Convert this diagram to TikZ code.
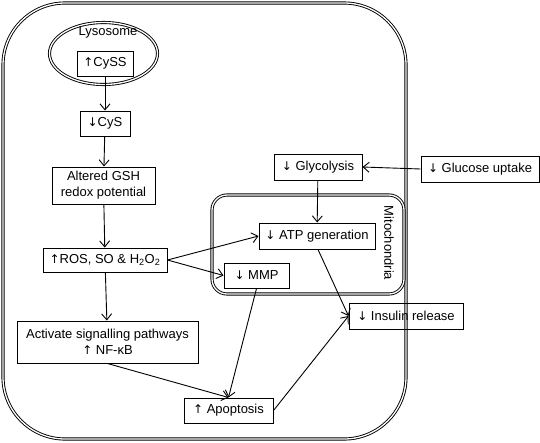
\documentclass[tikz,border=0pt]{standalone}
\usepackage{fontspec}
\setmainfont{Liberation Sans}
\newfontfamily\arrowfont{DejaVu Sans}
\newcommand\uparr{{\arrowfont\fontsize{12}{14}\selectfont ↑}}
\newcommand\dnarr{{\arrowfont\fontsize{12}{14}\selectfont ↓}}
\usetikzlibrary{arrows.meta,shapes.geometric}
\begin{document}
\begin{tikzpicture}[x=1pt,y=-1pt,
  box/.style={draw,line width=1pt,inner sep=0pt,minimum height=25pt,align=center,font=\fontsize{13}{16}\selectfont},
  dbl/.style={draw,line width=0.9pt,double,double distance=1.3pt},
  arr/.style={-{Straight Barb[length=6pt,width=10pt]},line width=0.9pt}]
\useasboundingbox (0,0) rectangle (540,442);
% cell
\draw[dbl,rounded corners=62pt] (3,3) rectangle (406,439);
% lysosome
\node[dbl,ellipse,minimum width=108pt,minimum height=62pt,inner sep=0pt] (lys) at (103.5,53.5) {};
\node[font=\fontsize{13}{15}\selectfont] (lyst) at (108,32) {Lysosome};
% mitochondria
\draw[dbl,rounded corners=15pt] (212,195) rectangle (404,294);
\node[rotate=-90,font=\fontsize{13}{15}\selectfont] (mitt) at (389,243) {Mitochondria};
% boxes
\node[box,minimum width=56pt] (cyss) at (105,63.5) {\uparr CySS};
\node[box,minimum width=50pt] (cys) at (105,123.5) {\dnarr CyS};
\node[box,minimum width=103pt,minimum height=37pt] (gsh) at (103.5,185.5) {Altered GSH\\redox potential};
\node[box,minimum width=124pt,minimum height=24pt] (ros) at (105,260) {\uparr ROS, SO \& H\textsubscript{2}O\textsubscript{2}};
\node[box,minimum width=181pt,minimum height=42pt] (act) at (107.5,342) {Activate signalling pathways\\\uparr\ NF-κB};
\node[box,minimum width=89pt] (apo) at (228.5,410.5) {\uparr\ Apoptosis};
\node[box,minimum width=88pt,minimum height=26pt] (gly) at (318,167) {\dnarr\ Glycolysis};
\node[box,minimum width=118pt,minimum height=26pt] (glu) at (480,169) {\dnarr\ Glucose uptake};
\node[box,minimum width=116pt,minimum height=26pt] (atp) at (317,236) {\dnarr\ ATP generation};
\node[box,minimum width=65pt] (mmp) at (256.5,275.5) {\dnarr\ MMP};
\node[box,minimum width=114pt,minimum height=26pt] (ins) at (406,316) {\dnarr\ Insulin release};
% arrows
\draw[arr] (cyss) -- (cys);
\draw[arr] (cys) -- (gsh);
\draw[arr] (gsh) -- (ros);
\draw[arr] (ros) -- (act);
\draw[arr] (ros.east) -- (atp.west);
\draw[arr] (ros.east) -- (mmp.west);
\draw[arr] (glu.west) -- (gly.east);
\draw[arr] (gly) -- (atp);
\draw[arr] (atp.south) ++(1,0) -- (ins.west);
\draw[arr] (mmp.south) -- (apo.north);
\draw[arr] (act.south) -- (apo.north);
\draw[arr] (apo.east) -- (ins.west);
\end{tikzpicture}
\end{document}
